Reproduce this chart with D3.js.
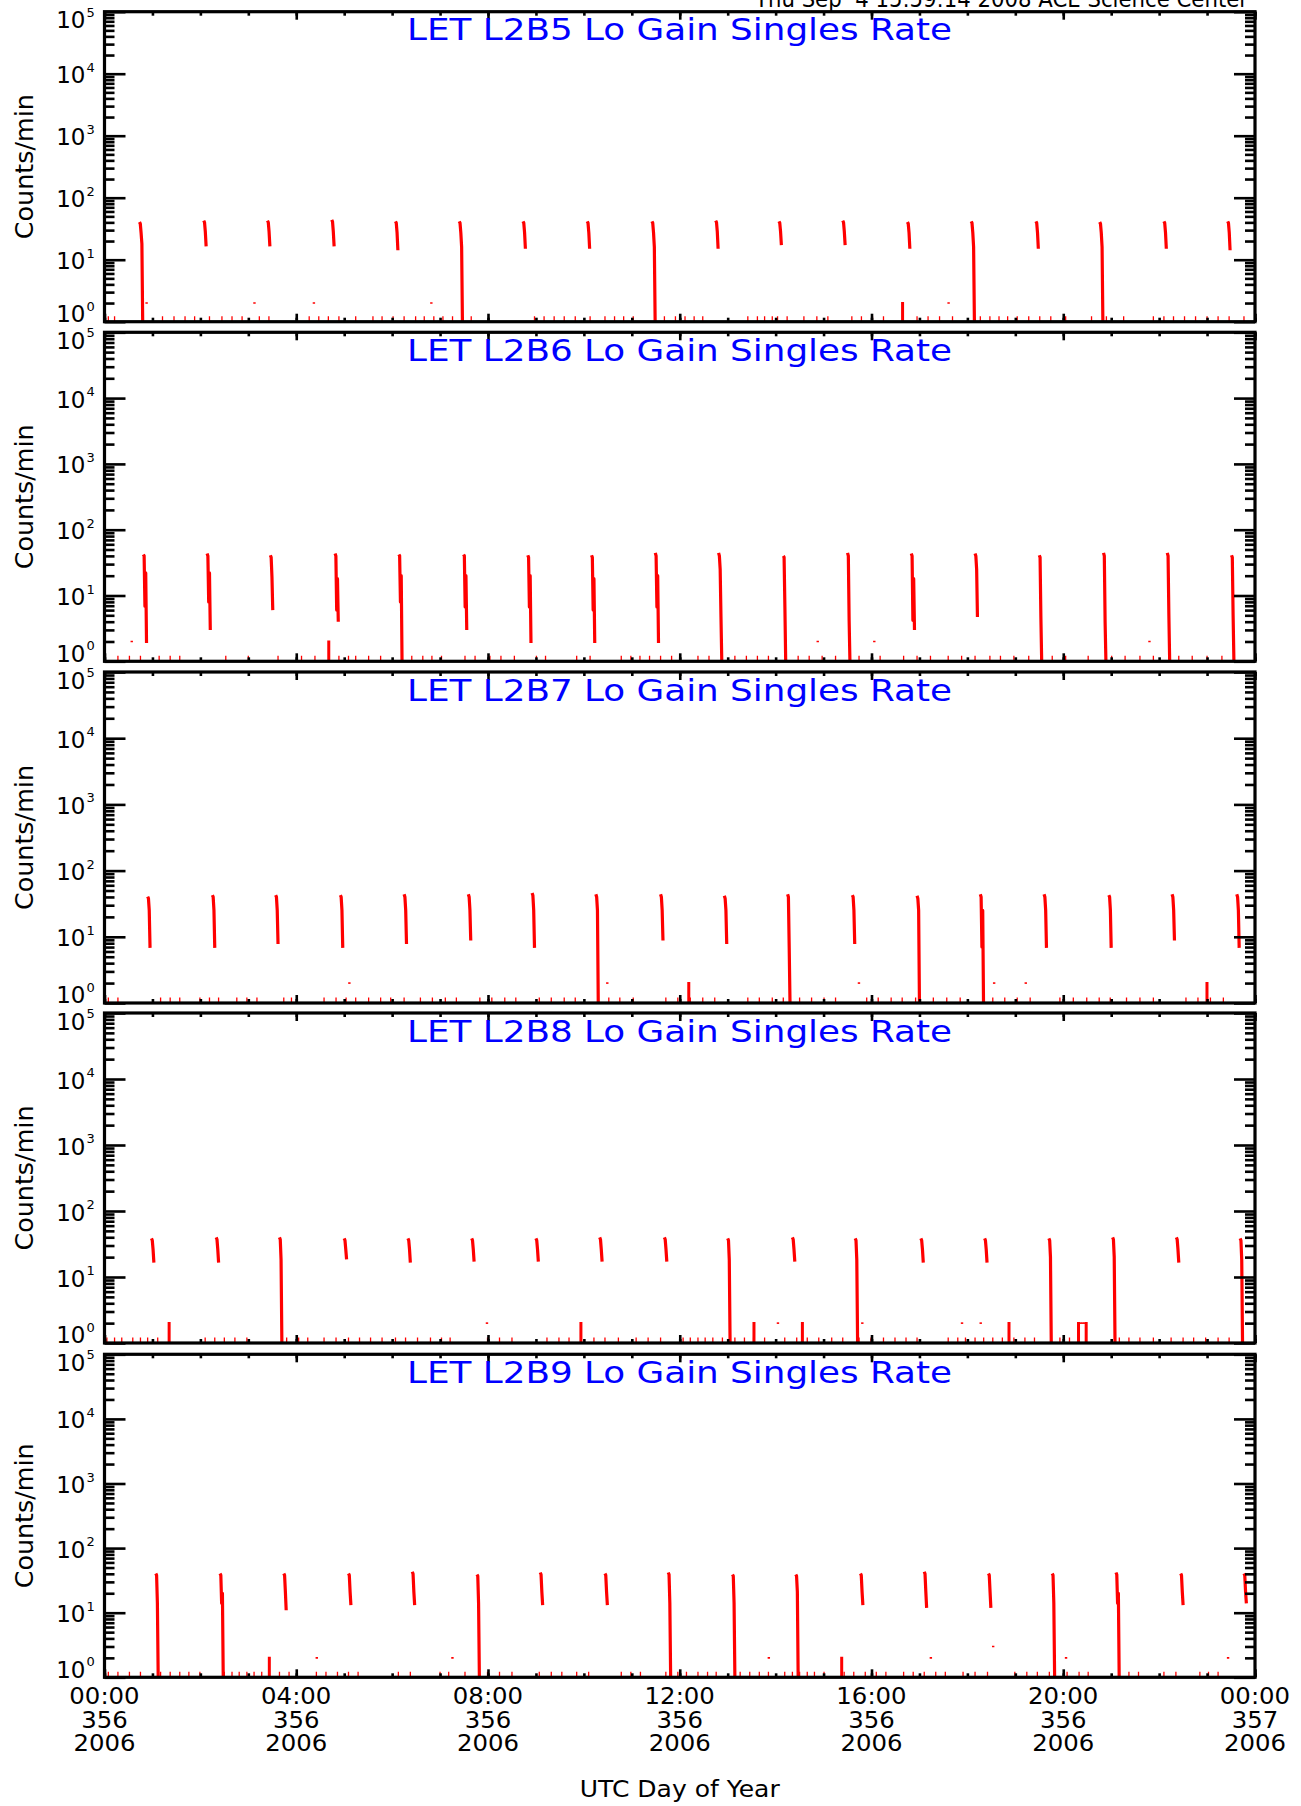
<!DOCTYPE html>
<html><head><meta charset="utf-8">
<script src="https://cdn.jsdelivr.net/npm/d3@7"></script>
<style>
body{margin:0;background:#fff}
svg{display:block}
text{font-family:"DejaVu Sans",sans-serif}
</style>
</head><body>
<svg id="c" width="1301" height="1806"></svg>
<script>
// ---------------- DATA ----------------
const panelNames = ["L2B5", "L2B6", "L2B7", "L2B8", "L2B9"];
const headerText = "Thu Sep  4 15:59:14 2008 ACE Science Center";
const xAxisTitle = "UTC Day of Year";
const yAxisTitle = "Counts/min";
const yExponents = [0, 1, 2, 3, 4, 5];
const tickHours = [0, 4, 8, 12, 16, 20, 24];
const tickTimes = ["00:00", "04:00", "08:00", "12:00", "16:00", "20:00", "00:00"];
const tickDays  = ["356", "356", "356", "356", "356", "356", "357"];
const tickYears = ["2006", "2006", "2006", "2006", "2006", "2006", "2006"];

// Spikes: start hour, then counts/min at successive minutes (0 = no counts)
const p1SpikeHours = [0.73, 2.07, 3.40, 4.74, 6.07, 7.40, 8.73, 10.07, 11.42, 12.75, 14.07, 15.40, 16.75, 18.08, 19.43, 20.76, 22.10, 23.43];
const p1SpikeVals = [
  [40.5, 38, 27, 18, 0], [42.6, 40, 28, 16.4], [42.6, 40, 28, 16.4], [44, 41, 28, 16.4],
  [41.5, 39, 27, 14.2], [41.5, 39, 27, 16, 0], [41.5, 39, 27, 15], [41.5, 39, 27, 15],
  [41.5, 39, 27, 16, 0], [42.6, 40, 28, 15], [41.5, 39, 28, 17.2], [42.6, 40, 28, 17.2],
  [40.5, 38, 27, 15], [41.5, 39, 27, 16, 0], [41.5, 39, 27, 15], [40.5, 38, 27, 16, 0],
  [41.5, 39, 27, 15], [41.5, 39, 27, 14.2]];
const p1BarHours = [16.64];
const p1BarVals = [2];
const p1DotHours = [0.87, 3.12, 4.36, 6.81, 17.60];
const p1DotVals = [2, 2, 2, 2, 2];
const p1LowHours = [0.08, 0.21, 1.21, 1.45, 1.68, 1.88, 2.19, 2.45, 2.66, 2.87, 3.23, 3.43, 4.27, 4.47, 4.67, 4.89,
  5.24, 5.60, 5.79, 6.02, 6.25, 6.49, 6.67, 6.87, 7.06, 7.26, 7.65, 8.97, 9.17, 9.38, 9.59, 9.82, 10.13, 10.44,
  10.64, 10.83, 11.03, 11.68, 11.91, 12.11, 12.30, 12.48, 13.42, 13.62, 13.77, 13.93, 14.04, 14.24, 14.59, 14.86,
  15.09, 15.59, 15.79, 16.02, 16.25, 16.95, 17.18, 17.42, 17.69, 18.27, 18.47, 18.66, 18.84, 19.04, 19.28, 19.51,
  19.74, 20.05, 20.59, 20.90, 21.26, 21.88, 22.10, 22.30, 22.53, 22.76, 23.00, 23.23, 23.46, 23.77];

const p2SpikeHours = [0.81, 2.14, 3.46, 4.81, 6.14, 7.49, 8.83, 10.16, 11.49, 12.81, 14.16, 15.50, 16.83, 18.16, 19.50, 20.84, 22.17, 23.51];
const p2SpikeVals = [
  [42, 40, 6.9, 22, 1.9], [43.5, 40, 8, 22, 3.0], [41, 38, 19, 6.0], [43.5, 40, 6.0, 18, 4.0],
  [42, 40, 8, 20, 0], [42, 40, 6.7, 20, 3.0], [41, 38, 6.7, 20, 1.9], [41, 38, 6.0, 18, 1.9],
  [44.6, 40, 6.7, 20, 1.9], [44.6, 40, 25, 4.7, 0], [40, 38, 6.7, 0], [44.6, 40, 4.2, 0],
  [43.5, 40, 4.2, 18, 3.0], [43.5, 40, 25, 4.7], [41, 38, 4.7, 0], [44.6, 40, 3.9, 0],
  [44.6, 40, 5, 0], [41, 38, 5, 0]];
const p2BarHours = [4.67];
const p2BarVals = [2];
const p2DotHours = [0.56, 14.87, 16.05, 21.79];
const p2DotVals = [2, 2, 2, 2];
const p2LowHours = [0.28, 0.52, 0.75, 1.14, 1.37, 1.57, 2.53, 3.00, 3.62, 4.11, 4.39, 4.89, 5.09, 5.24, 5.51, 5.76,
  6.41, 6.64, 6.83, 7.03, 7.52, 7.73, 8.04, 8.27, 8.55, 9.01, 9.20, 9.85, 10.13, 10.78, 10.98, 11.17, 11.37, 11.60,
  11.83, 12.38, 12.61, 13.15, 13.39, 13.62, 13.85, 14.47, 14.70, 14.97, 15.25, 15.74, 16.18, 16.67, 16.95, 17.23,
  17.60, 17.88, 18.16, 18.47, 18.69, 18.97, 19.28, 19.77, 20.05, 20.52, 21.01, 21.29, 21.60, 21.88, 22.41, 22.69,
  23.00, 23.31];

const p3SpikeHours = [0.90, 2.25, 3.57, 4.92, 6.25, 7.59, 8.92, 10.25, 11.60, 12.93, 14.25, 15.60, 16.95, 18.27, 19.60, 20.95, 22.27, 23.62];
const p3SpikeVals = [
  [40.6, 38, 25, 6.8], [42.6, 40, 25, 6.8], [42.6, 40, 25, 7.8], [42.6, 40, 25, 6.8],
  [44, 40, 25, 7.8], [44, 40, 25, 8.8], [45.7, 42, 25, 6.8], [44, 40, 25, 0],
  [44, 40, 25, 8.8], [41.6, 38, 25, 7.8], [44, 40, 6.8, 0], [42.6, 40, 25, 7.8],
  [41.6, 38, 25, 0], [44, 40, 7, 25, 0], [44, 40, 25, 6.8], [42.6, 40, 25, 6.8],
  [44, 40, 25, 8.8], [44, 40, 25, 6.8]];
const p3BarHours = [12.18, 22.99];
const p3BarVals = [2, 2];
const p3DotHours = [5.10, 10.48, 15.73, 18.55, 19.21];
const p3DotVals = [2, 2, 2, 2, 2];
const p3LowHours = [0.08, 0.28, 1.17, 1.37, 1.57, 1.99, 2.19, 2.38, 2.76, 2.97, 3.18, 3.74, 3.90, 4.58, 4.83, 5.04,
  5.24, 5.51, 5.76, 5.97, 6.25, 6.59, 6.84, 7.11, 7.34, 7.83, 8.08, 8.35, 8.58, 9.07, 9.32, 9.59, 9.82, 10.52,
  10.75, 11.03, 11.71, 11.96, 12.22, 12.48, 12.73, 13.42, 13.66, 13.93, 14.16, 14.50, 14.75, 15.01, 15.25, 15.90,
  16.14, 16.41, 16.64, 16.92, 17.29, 17.57, 17.85, 18.53, 18.78, 19.04, 19.31, 19.93, 20.21, 20.49, 20.75, 20.98,
  21.32, 21.60, 21.88, 22.56, 22.81, 23.07, 23.34];

const p4SpikeHours = [0.98, 2.33, 3.65, 5.00, 6.33, 7.66, 9.00, 10.33, 11.68, 13.00, 14.35, 15.66, 17.03, 18.36, 19.70, 21.03, 22.36, 23.69];
const p4SpikeVals = [
  [38.5, 36, 26, 16.5], [39.9, 37, 26, 16.5], [39.9, 37, 18, 0], [38.5, 36, 26, 18.5],
  [38.5, 36, 26, 16.5], [38.5, 36, 26, 17.1], [38.5, 36, 26, 17.1], [39.9, 37, 26, 17.1],
  [39.9, 37, 26, 17.1], [38.5, 36, 18, 0], [39.9, 37, 26, 17.1], [38.5, 36, 18, 0],
  [38.5, 36, 26, 16.5], [38.5, 36, 26, 16.5], [38.5, 36, 20, 0], [39.9, 37, 20, 0],
  [39.9, 37, 26, 16.5], [38.5, 36, 18, 0]];
const p4BarHours = [1.34, 9.93, 13.54, 14.55, 18.86, 20.31, 20.47];
const p4BarVals = [2, 2, 2, 2, 2, 2, 2];
const p4DotHours = [7.97, 14.04, 15.80, 17.88, 18.27, 20.35, 20.39, 20.43];
const p4DotVals = [2, 2, 2, 2, 2, 2, 2, 2];
const p4LowHours = [0.05, 0.21, 0.36, 0.59, 0.75, 0.90, 1.11, 2.10, 2.30, 2.50, 2.72, 2.97, 3.80, 4.05, 4.24, 4.58,
  4.83, 5.09, 5.32, 5.55, 5.79, 6.07, 6.28, 6.53, 6.80, 7.03, 7.21, 7.99, 8.24, 8.50, 9.23, 9.48, 9.69, 9.94,
  10.21, 10.44, 10.72, 11.09, 11.34, 11.60, 12.07, 12.22, 12.38, 12.53, 12.69, 12.89, 13.15, 13.35, 13.54, 13.77,
  14.19, 14.44, 14.66, 14.90, 15.17, 15.40, 15.74, 15.99, 16.25, 16.49, 16.72, 16.95, 17.60, 17.80, 17.96, 18.16,
  18.34, 18.53, 18.73, 18.97, 19.20, 19.40, 19.93, 20.13, 20.33, 21.17, 21.37, 21.60, 21.88, 22.25, 22.50, 22.72,
  22.97, 23.23, 23.46];

const p5SpikeHours = [1.07, 2.41, 3.74, 5.09, 6.42, 7.77, 9.09, 10.44, 11.76, 13.10, 14.42, 15.77, 17.10, 18.44, 19.77, 21.10, 22.45, 23.77];
const p5SpikeVals = [
  [40.4, 38, 14, 0], [40.4, 38, 14, 20, 0], [40.4, 38, 21, 10.9], [40.4, 38, 21, 13.1],
  [43, 40, 21, 13.1], [39, 37, 14, 0], [41.9, 39, 21, 13.1], [40.4, 38, 21, 13.1],
  [41.9, 39, 14, 0], [39, 37, 14, 0], [39, 37, 21, 0], [40.4, 38, 21, 13.1],
  [43, 40, 21, 11.9], [40.4, 38, 21, 11.9], [40.4, 38, 14, 0], [41.9, 39, 14, 20, 0],
  [40.4, 38, 21, 13.1], [40.4, 38, 21, 13.9]];
const p5BarHours = [3.43, 15.37];
const p5BarVals = [2, 2];
const p5DotHours = [4.42, 7.25, 13.85, 17.23, 18.53, 20.05, 23.43];
const p5DotVals = [2, 2, 2, 2, 3, 2, 2];
const p5LowHours = [0.08, 0.28, 0.52, 0.75, 1.17, 1.37, 1.57, 1.76, 1.99, 2.50, 2.66, 2.81, 2.97, 3.12, 3.28, 3.65,
  3.85, 4.42, 4.62, 4.86, 5.09, 5.29, 6.13, 6.38, 7.00, 7.18, 7.52, 7.99, 8.24, 8.50, 9.07, 9.32, 9.54, 9.85,
  10.10, 10.78, 10.98, 11.18, 11.71, 11.96, 12.14, 12.38, 12.58, 12.76, 13.26, 13.46, 13.66, 13.85, 14.19, 14.35,
  14.50, 14.66, 14.81, 15.01, 15.43, 15.63, 15.87, 16.10, 16.30, 16.67, 16.87, 17.10, 17.34, 17.54, 17.91, 18.16,
  18.42, 18.99, 19.24, 19.46, 19.71, 20.08, 20.33, 20.52, 21.17, 21.37, 21.57, 22.10, 22.35, 22.85, 23.03, 23.23];

// ---------------- LAYOUT ----------------
const plotLeft = 104.5, plotRight = 1255;
const panelTops = [11.7, 332.3, 672, 1013, 1354.3];
const panelBottoms = [321.7, 661.3, 1003, 1343, 1677.3];
const MINUTE = 1 / 60;

const panels = [
  {spH: p1SpikeHours, spV: p1SpikeVals, bH: p1BarHours, bV: p1BarVals, dH: p1DotHours, dV: p1DotVals, low: p1LowHours},
  {spH: p2SpikeHours, spV: p2SpikeVals, bH: p2BarHours, bV: p2BarVals, dH: p2DotHours, dV: p2DotVals, low: p2LowHours},
  {spH: p3SpikeHours, spV: p3SpikeVals, bH: p3BarHours, bV: p3BarVals, dH: p3DotHours, dV: p3DotVals, low: p3LowHours},
  {spH: p4SpikeHours, spV: p4SpikeVals, bH: p4BarHours, bV: p4BarVals, dH: p4DotHours, dV: p4DotVals, low: p4LowHours},
  {spH: p5SpikeHours, spV: p5SpikeVals, bH: p5BarHours, bV: p5BarVals, dH: p5DotHours, dV: p5DotVals, low: p5LowHours}
];

const svg = d3.select("#c");
const x = d3.scaleLinear().domain([0, 24]).range([plotLeft, plotRight]);
const RED = "#ff0000", BLUE = "#0000ff";

function stretchTo(sel, width) {
  sel.attr("textLength", width).attr("lengthAdjust", "spacingAndGlyphs");
}
function stretchBy(sel, f) {
  sel.each(function () {
    const w = this.getComputedTextLength();
    d3.select(this).attr("textLength", w * f).attr("lengthAdjust", "spacingAndGlyphs");
  });
}

// header (partly above the page edge, as in the original)
const hdr = svg.append("text").attr("x", 755).attr("y", 6.7)
  .style("white-space", "pre").attr("font-size", 23).attr("fill", "#000").text(headerText);
stretchTo(hdr, 493);

const defs = svg.append("defs");

panels.forEach((p, i) => {
  const top = panelTops[i], bot = panelBottoms[i];
  const y = d3.scaleLog().domain([1, 1e5]).range([bot, top]).clamp(true);
  const yv = v => y(Math.max(v, 1));
  const line = d3.line().x(d => x(d[0])).y(d => yv(d[1]));
  const g = svg.append("g");

  defs.append("clipPath").attr("id", "clip" + i).append("rect")
    .attr("x", plotLeft).attr("y", top).attr("width", plotRight - plotLeft).attr("height", bot - top);
  const dg = g.append("g").attr("clip-path", `url(#clip${i})`);

  // isolated single counts at the floor
  dg.selectAll("line.low").data(p.low).join("line").attr("class", "low")
    .attr("x1", d => x(d)).attr("x2", d => x(d))
    .attr("y1", yv(1)).attr("y2", yv(1) - 5.5)
    .attr("stroke", RED).attr("stroke-width", 1.3);

  // short bars
  dg.selectAll("path.bar").data(p.bH.map((h, k) => [[h, 1], [h, p.bV[k]], [h + MINUTE, p.bV[k]], [h + MINUTE, 1]]))
    .join("path").attr("class", "bar").attr("d", line)
    .attr("fill", "none").attr("stroke", RED).attr("stroke-width", 2.2);

  // isolated dots
  dg.selectAll("path.dot").data(p.dH.map((h, k) => [[h, p.dV[k]], [h + MINUTE, p.dV[k]]]))
    .join("path").attr("class", "dot").attr("d", line)
    .attr("fill", "none").attr("stroke", RED).attr("stroke-width", 1.6).attr("stroke-linecap", "square");

  // spikes
  dg.selectAll("path.spike").data(p.spH.map((h, k) => p.spV[k].map((v, m) => [h + m * MINUTE, v])))
    .join("path").attr("class", "spike").attr("d", line)
    .attr("fill", "none").attr("stroke", RED).attr("stroke-width", 3.2)
    .attr("stroke-linejoin", "round");

  // axes
  const majors = yExponents.map(e => Math.pow(10, e));
  const minors = [];
  yExponents.slice(0, -1).forEach(e => { for (let k = 2; k <= 9; k++) minors.push(k * Math.pow(10, e)); });
  const hours = d3.range(0, 25);

  const ax = g.append("g");
  ax.append("g").attr("transform", `translate(${plotLeft},0)`).call(d3.axisLeft(y).tickValues(majors).tickSize(-21).tickFormat(""));
  ax.append("g").attr("transform", `translate(${plotLeft},0)`).call(d3.axisLeft(y).tickValues(minors).tickSize(-10).tickFormat(""));
  ax.append("g").attr("transform", `translate(${plotRight},0)`).call(d3.axisRight(y).tickValues(majors).tickSize(-21).tickFormat(""));
  ax.append("g").attr("transform", `translate(${plotRight},0)`).call(d3.axisRight(y).tickValues(minors).tickSize(-10).tickFormat(""));
  ax.append("g").attr("transform", `translate(0,${top})`).call(d3.axisTop(x).tickValues(hours).tickSize(-4).tickFormat(""));
  ax.append("g").attr("transform", `translate(0,${top})`).call(d3.axisTop(x).tickValues(tickHours).tickSize(-8).tickFormat(""));
  ax.append("g").attr("transform", `translate(0,${bot})`).call(d3.axisBottom(x).tickValues(hours).tickSize(-4).tickFormat(""));
  ax.append("g").attr("transform", `translate(0,${bot})`).call(d3.axisBottom(x).tickValues(tickHours).tickSize(-8).tickFormat(""));
  ax.selectAll(".domain").remove();
  ax.selectAll(".tick line").attr("stroke", "#000").attr("stroke-width", 2.6);

  g.append("rect").attr("x", plotLeft).attr("y", top)
    .attr("width", plotRight - plotLeft).attr("height", bot - top)
    .attr("fill", "none").attr("stroke", "#000").attr("stroke-width", 3.2);

  // y tick labels 10^e
  yExponents.forEach((e, k) => {
    const ty = y(Math.pow(10, e));
    let base = ty + 9.5;
    if (k === yExponents.length - 1) base = ty + 16.5;
    if (k === 0) base = ty + 0.3;
    g.append("text").attr("x", 85.5).attr("y", base).attr("text-anchor", "end")
      .attr("font-size", 23).attr("fill", "#000").text("10");
    g.append("text").attr("x", 86.5).attr("y", base - 11.5).attr("text-anchor", "start")
      .attr("font-size", 13).attr("fill", "#000").text(String(e));
  });

  // y title
  const yt = g.append("text")
    .attr("transform", `translate(33,${(top + bot) / 2}) rotate(-90)`)
    .attr("text-anchor", "middle").attr("font-size", 24).attr("fill", "#000").text(yAxisTitle);
  stretchTo(yt, 145);

  // panel title
  const tt = g.append("text").attr("x", 407).attr("y", top + 28.5)
    .attr("font-size", 31).attr("fill", BLUE).text("LET " + panelNames[i] + " Lo Gain Singles Rate");
  stretchTo(tt, 545);

  // bottom labels
  if (i === panels.length - 1) {
    const rows = [tickTimes, tickDays, tickYears];
    const rowBase = [1704, 1727.5, 1751];
    rows.forEach((labels, r) => {
      const s = g.selectAll("text.xl" + r).data(tickHours).join("text").attr("class", "xl" + r)
        .attr("x", d => x(d)).attr("y", rowBase[r]).attr("text-anchor", "middle")
        .attr("font-size", 23).attr("fill", "#000").text((d, k) => labels[k]);
      stretchBy(s, 1.06);
    });
    const xt = g.append("text").attr("x", (plotLeft + plotRight) / 2).attr("y", 1797)
      .attr("text-anchor", "middle").attr("font-size", 23).attr("fill", "#000").text(xAxisTitle);
    stretchTo(xt, 200);
  }
});
</script>
</body></html>
